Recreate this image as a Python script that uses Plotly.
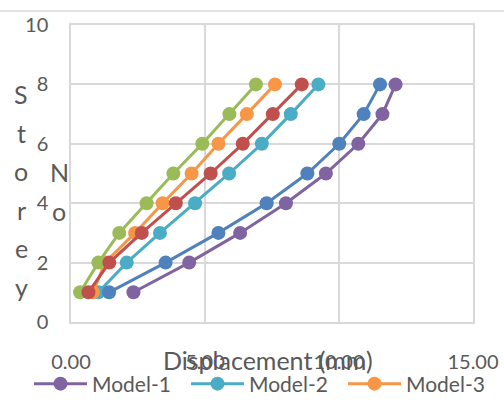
import plotly.graph_objects as go

# Storey levels and lateral displacement (mm) of each model
storeys = [1, 2, 3, 4, 5, 6, 7, 8]

model_1 = [2.33, 4.41, 6.31, 8.02, 9.51, 10.72, 11.62, 12.11]
model_2 = [1.02, 2.08, 3.32, 4.63, 5.90, 7.12, 8.20, 9.23]
model_3 = [0.82, 1.27, 2.39, 3.42, 4.50, 5.50, 6.56, 7.61]
model_a = [1.42, 3.53, 5.50, 7.30, 8.82, 10.01, 10.92, 11.53]
model_b = [0.65, 1.43, 2.64, 3.91, 5.21, 6.41, 7.53, 8.61]
model_c = [0.34, 1.02, 1.80, 2.82, 3.82, 4.90, 5.91, 6.90]

x_ticks = [0, 5, 10, 15]
x_tick_labels = ["0.00", "5.00", "10.00", "15.00"]
y_ticks = [0, 2, 4, 6, 8, 10]

x_title = "Displacement (mm)"
y_title_words = ["Storey", "No"]

FONT = "Lato"
TEXT = "#595959"
GRID = "#d9d9d9"

# plot area in pixels
L, R, T, B = 71, 31, 25, 80
W, H = 504, 402
PW, PH = W - L - R, H - T - B

series = [
    ("Model-1", model_1, "#8064A2", True),
    ("Model-2", model_2, "#4BACC6", True),
    ("Model-3", model_3, "#F79646", True),
    ("Model-A", model_c, "#9BBB59", False),
    ("Model-B", model_b, "#C0504D", False),
    ("Model-C", model_a, "#4F81BD", False),
]

fig = go.Figure()
for name, xs, color, in_legend in series:
    fig.add_trace(go.Scatter(
        x=xs, y=storeys, name=name, mode="lines+markers",
        line=dict(color=color, width=3),
        marker=dict(color=color, size=14, symbol="circle"),
        showlegend=in_legend,
    ))


def px_x(px):
    return (px - L) / PW


def px_y(py):
    return (T + PH - py) / PH


fig.update_layout(
    width=W, height=H,
    margin=dict(l=L, r=R, t=T, b=B, autoexpand=False),
    paper_bgcolor="white", plot_bgcolor="white",
    font=dict(family=FONT, size=20, color=TEXT),
    legend=dict(
        orientation="h", x=px_x(29), xanchor="left",
        y=px_y(384), yanchor="middle",
        font=dict(size=21, color=TEXT), itemwidth=53,
        entrywidth=89, entrywidthmode="pixels",
        traceorder="normal", tracegroupgap=0,
        bgcolor="rgba(0,0,0,0)",
    ),
    xaxis=dict(
        range=[0, 15], tickvals=x_ticks, ticktext=x_tick_labels,
        showgrid=True, gridcolor=GRID, gridwidth=1.5,
        showline=True, linecolor=GRID, linewidth=1.5, mirror=True,
        zeroline=False, ticks="", ticklabelstandoff=21, automargin=False,
    ),
    yaxis=dict(
        range=[0, 10], tickvals=y_ticks,
        showgrid=True, gridcolor=GRID, gridwidth=1.5,
        showline=True, linecolor=GRID, linewidth=1.5, mirror=True,
        zeroline=False, ticks="", ticklabelstandoff=17, automargin=False,
    ),
)

# X axis title, sitting on the tick-label row
fig.add_annotation(
    text=x_title, xref="paper", yref="paper",
    x=px_x(268), y=px_y(360), xanchor="center", yanchor="middle",
    showarrow=False, font=dict(size=25, color=TEXT, family=FONT),
)

# Y axis title, one letter per row, one column per word
columns = [(21, 94), (59, 172)]
for word, (cx, top) in zip(y_title_words, columns):
    for i, ch in enumerate(word):
        fig.add_annotation(
            text=ch, xref="paper", yref="paper",
            x=px_x(cx), y=px_y(top + i * 38.6), xanchor="center", yanchor="middle",
            showarrow=False, font=dict(size=25, color=TEXT, family=FONT),
        )

# Chart border line along the top
fig.add_shape(
    type="line", xref="paper", yref="paper",
    x0=px_x(0), x1=px_x(W), y0=px_y(11), y1=px_y(11),
    line=dict(color=GRID, width=1.5),
)

fig.write_html("out.html")
